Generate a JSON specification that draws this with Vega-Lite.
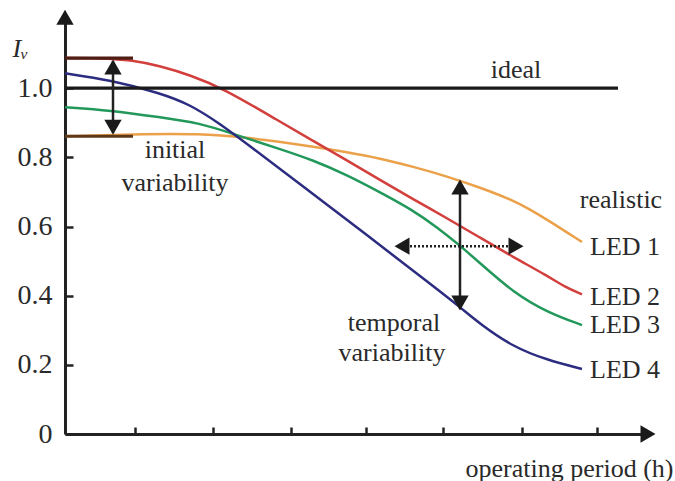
{
  "$schema": "https://vega.github.io/schema/vega-lite/v6.json",
  "width": 580,
  "height": 415,
  "autosize": {"type": "none"},
  "padding": {"left": 65, "top": 19, "right": 30, "bottom": 47},
  "background": "white",
  "config": {"view": {"stroke": null}, "font": "Liberation Serif"},
  "datasets": {
    "curves": [
      {"series": "LED 1", "x": 0, "y": 0.861},
      {"series": "LED 1", "x": 68, "y": 0.867},
      {"series": "LED 1", "x": 135, "y": 0.869},
      {"series": "LED 1", "x": 185, "y": 0.856},
      {"series": "LED 1", "x": 215, "y": 0.845},
      {"series": "LED 1", "x": 248, "y": 0.831},
      {"series": "LED 1", "x": 282, "y": 0.815},
      {"series": "LED 1", "x": 315, "y": 0.797},
      {"series": "LED 1", "x": 348, "y": 0.773},
      {"series": "LED 1", "x": 382, "y": 0.745},
      {"series": "LED 1", "x": 415, "y": 0.713},
      {"series": "LED 1", "x": 448, "y": 0.676},
      {"series": "LED 1", "x": 465, "y": 0.649},
      {"series": "LED 1", "x": 482, "y": 0.62},
      {"series": "LED 1", "x": 517, "y": 0.555},
      {"series": "LED 2", "x": 0, "y": 1.087},
      {"series": "LED 2", "x": 35, "y": 1.087},
      {"series": "LED 2", "x": 68, "y": 1.081},
      {"series": "LED 2", "x": 95, "y": 1.064},
      {"series": "LED 2", "x": 125, "y": 1.038},
      {"series": "LED 2", "x": 158, "y": 1.0},
      {"series": "LED 2", "x": 215, "y": 0.903},
      {"series": "LED 2", "x": 248, "y": 0.848},
      {"series": "LED 2", "x": 282, "y": 0.791},
      {"series": "LED 2", "x": 315, "y": 0.735},
      {"series": "LED 2", "x": 348, "y": 0.679},
      {"series": "LED 2", "x": 382, "y": 0.624},
      {"series": "LED 2", "x": 415, "y": 0.568},
      {"series": "LED 2", "x": 448, "y": 0.512},
      {"series": "LED 2", "x": 482, "y": 0.458},
      {"series": "LED 2", "x": 500, "y": 0.425},
      {"series": "LED 2", "x": 517, "y": 0.404},
      {"series": "LED 3", "x": 0, "y": 0.945},
      {"series": "LED 3", "x": 45, "y": 0.936},
      {"series": "LED 3", "x": 95, "y": 0.916},
      {"series": "LED 3", "x": 135, "y": 0.899},
      {"series": "LED 3", "x": 168, "y": 0.868},
      {"series": "LED 3", "x": 215, "y": 0.824},
      {"series": "LED 3", "x": 248, "y": 0.792},
      {"series": "LED 3", "x": 282, "y": 0.749},
      {"series": "LED 3", "x": 315, "y": 0.699},
      {"series": "LED 3", "x": 348, "y": 0.647},
      {"series": "LED 3", "x": 372, "y": 0.598},
      {"series": "LED 3", "x": 395, "y": 0.545},
      {"series": "LED 3", "x": 415, "y": 0.494},
      {"series": "LED 3", "x": 448, "y": 0.41},
      {"series": "LED 3", "x": 482, "y": 0.352},
      {"series": "LED 3", "x": 517, "y": 0.315},
      {"series": "LED 4", "x": 0, "y": 1.043},
      {"series": "LED 4", "x": 45, "y": 1.024},
      {"series": "LED 4", "x": 95, "y": 0.986},
      {"series": "LED 4", "x": 125, "y": 0.953},
      {"series": "LED 4", "x": 155, "y": 0.897},
      {"series": "LED 4", "x": 185, "y": 0.832},
      {"series": "LED 4", "x": 235, "y": 0.723},
      {"series": "LED 4", "x": 302, "y": 0.575},
      {"series": "LED 4", "x": 368, "y": 0.428},
      {"series": "LED 4", "x": 395, "y": 0.367},
      {"series": "LED 4", "x": 415, "y": 0.318},
      {"series": "LED 4", "x": 448, "y": 0.252},
      {"series": "LED 4", "x": 482, "y": 0.214},
      {"series": "LED 4", "x": 517, "y": 0.188}
    ],
    "straight": [
      {"series": "ideal", "x": 0, "y": 1.0},
      {"series": "ideal", "x": 553, "y": 1.0},
      {"series": "initial max", "x": 0, "y": 1.087},
      {"series": "initial max", "x": 68, "y": 1.087},
      {"series": "initial min", "x": 0, "y": 0.861},
      {"series": "initial min", "x": 68, "y": 0.861}
    ],
    "shafts": [
      {"arrow": "initial", "x": 48, "x2": 48, "y": 1.078, "y2": 0.87},
      {"arrow": "temporal", "x": 395, "x2": 395, "y": 0.728, "y2": 0.362},
      {"arrow": "spread", "x": 333, "x2": 455, "y": 0.543, "y2": 0.543}
    ],
    "heads": [
      {"dir": "up", "x": 0, "y": 1.205},
      {"dir": "right", "x": 583, "y": 0},
      {"dir": "up", "x": 48, "y": 1.061},
      {"dir": "down", "x": 48, "y": 0.887},
      {"dir": "up", "x": 395, "y": 0.714},
      {"dir": "down", "x": 395, "y": 0.379},
      {"dir": "left", "x": 337, "y": 0.543},
      {"dir": "right", "x": 451, "y": 0.543}
    ],
    "notes": [
      {"text": "initial", "x": 110, "y": 0.821},
      {"text": "variability", "x": 110, "y": 0.725},
      {"text": "ideal", "x": 451, "y": 1.052},
      {"text": "realistic", "x": 556, "y": 0.676},
      {"text": "temporal", "x": 329, "y": 0.321},
      {"text": "variability", "x": 327, "y": 0.234}
    ],
    "labels": [
      {"text": "LED 1", "x": 525, "y": 0.54},
      {"text": "LED 2", "x": 525, "y": 0.396},
      {"text": "LED 3", "x": 525, "y": 0.315},
      {"text": "LED 4", "x": 525, "y": 0.185}
    ]
  },
  "encoding": {
    "x": {
      "field": "x", "type": "quantitative",
      "scale": {"domain": [0, 580], "nice": false, "zero": false},
      "axis": {
        "values": [70, 148, 226, 301, 378, 457, 532],
        "labels": false, "grid": false,
        "tickSize": -7, "tickWidth": 2.5, "tickColor": "#222",
        "domainColor": "#222", "domainWidth": 3,
        "title": "operating period (h)",
        "titleX": 608, "titleY": 34, "titleAlign": "right", "titleBaseline": "middle",
        "titleFont": "Liberation Serif", "titleFontSize": 26, "titleFontWeight": "normal", "titleColor": "#2a2a2a"
      }
    },
    "y": {
      "field": "y", "type": "quantitative",
      "scale": {"domain": [0, 1.2], "nice": false, "zero": false},
      "axis": {
        "values": [0, 0.2, 0.4, 0.6, 0.8, 1.0],
        "labelExpr": "datum.value == 0 ? '0' : format(datum.value, '.1f')",
        "grid": false, "labelOverlap": false, "labelFlush": false,
        "tickSize": -8, "labelPadding": 21, "tickWidth": 2.5, "tickColor": "#222",
        "domainColor": "#222", "domainWidth": 3,
        "labelFont": "Liberation Serif", "labelFontSize": 28, "labelColor": "#2a2a2a",
        "title": "Iᵥ", "titleAngle": 0, "titleX": -45, "titleY": 29,
        "titleAlign": "center", "titleBaseline": "middle",
        "titleFont": "Liberation Serif", "titleFontStyle": "italic", "titleFontWeight": "normal",
        "titleFontSize": 26, "titleColor": "#2a2a2a"
      }
    }
  },
  "layer": [
    {
      "data": {"name": "curves"},
      "mark": {"type": "line", "interpolate": "basis", "strokeWidth": 2.5, "clip": false},
      "encoding": {
        "color": {
          "field": "series", "type": "nominal",
          "scale": {
            "domain": ["LED 1", "LED 2", "LED 3", "LED 4", "ideal", "initial max", "initial min"],
            "range": ["#eba14a", "#d23f3c", "#22985a", "#2c2c80", "#1a1a1a", "#4e1d14", "#5e3818"]
          },
          "legend": null
        }
      }
    },
    {
      "data": {"name": "straight"},
      "mark": {"type": "line", "strokeWidth": 3.2, "clip": false},
      "encoding": {
        "color": {"field": "series", "type": "nominal", "legend": null}
      }
    },
    {
      "data": {"name": "shafts"},
      "transform": [{"filter": "datum.arrow != 'spread'"}],
      "mark": {"type": "rule", "strokeWidth": 2.5, "color": "#222"},
      "encoding": {
        "x2": {"field": "x2"},
        "y2": {"field": "y2"}
      }
    },
    {
      "data": {"name": "shafts"},
      "transform": [{"filter": "datum.arrow == 'spread'"}],
      "mark": {"type": "rule", "strokeWidth": 2.5, "color": "#222", "strokeDash": [2, 2]},
      "encoding": {
        "x2": {"field": "x2"},
        "y2": {"field": "y2"}
      }
    },
    {
      "data": {"name": "heads"},
      "mark": {"type": "point", "filled": true, "opacity": 1, "size": 300, "color": "#1a1a1a", "strokeWidth": 0, "clip": false},
      "encoding": {
        "shape": {
          "field": "dir", "type": "nominal",
          "scale": {"domain": ["up", "down", "left", "right"], "range": ["triangle-up", "triangle-down", "triangle-left", "triangle-right"]},
          "legend": null
        }
      }
    },
    {
      "data": {"name": "notes"},
      "mark": {"type": "text", "align": "center", "baseline": "middle", "font": "Liberation Serif", "fontSize": 26, "color": "#2a2a2a"},
      "encoding": {
        "text": {"field": "text"}
      }
    },
    {
      "data": {"name": "labels"},
      "mark": {"type": "text", "align": "left", "baseline": "middle", "font": "Liberation Serif", "fontSize": 26, "color": "#2a2a2a"},
      "encoding": {
        "text": {"field": "text"}
      }
    }
  ]
}
